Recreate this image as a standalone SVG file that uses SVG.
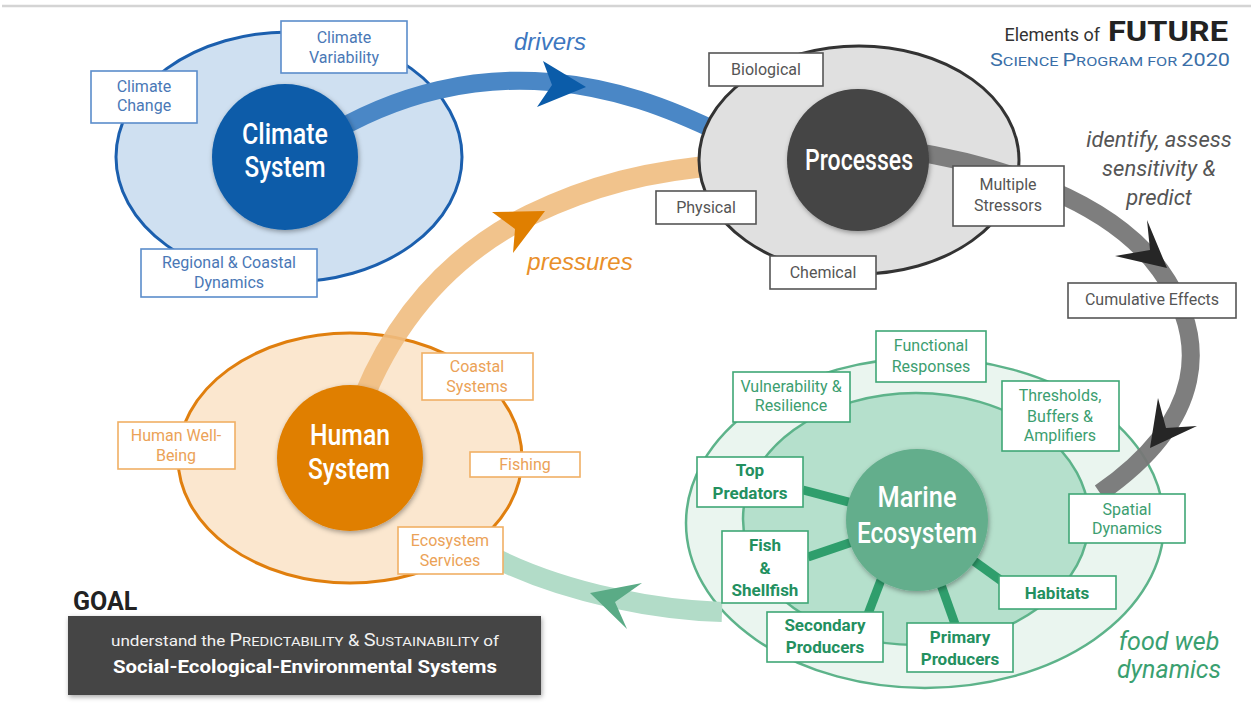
<svg xmlns="http://www.w3.org/2000/svg" width="1251" height="708" viewBox="0 0 1251 708">
  <defs>
    <filter id="shadow" x="-25%" y="-25%" width="150%" height="150%">
      <feDropShadow dx="1" dy="2" stdDeviation="2.5" flood-color="#000" flood-opacity="0.35"/>
    </filter>
    <style>
      text { font-family: Roboto, "Liberation Sans", sans-serif; }
      .lbl { font-size: 16px; text-anchor: middle; }
      .bold { font-size: 17px; font-weight: bold; text-anchor: middle; fill: #23905f; }
      .box { fill: #fff; stroke-width: 1.6; }
      .blue-box { stroke: #5b8dcb; }
      .blue-txt { fill: #4a78b6; }
      .gray-box { stroke: #555; }
      .gray-txt { fill: #555; }
      .orange-box { stroke: #f0b064; }
      .orange-txt { fill: #eba257; }
      .green-box { stroke: #3fa776; }
      .green-txt { fill: #3c9e70; }
      .hub { font-size: 30px; font-weight: 500; fill: #fff; text-anchor: middle; }
      .band { fill: none; stroke-linecap: butt; }
      .spoke { stroke: #2f9e6c; stroke-width: 9; }
      .verb { font-family: "Liberation Sans", Arial, sans-serif; font-style: italic; text-anchor: middle; }
    </style>
  </defs>

  <!-- header rule -->
  <line x1="2" y1="6" x2="1251" y2="6" stroke="#d4d4d4" stroke-width="2.5"/>

  <!-- title -->
  <g id="title">
    <text x="1100" y="41" font-size="18" fill="#333" text-anchor="end">Elements of</text>
    <text x="1108" y="41" font-size="28" font-weight="bold" fill="#222" textLength="120" lengthAdjust="spacingAndGlyphs">FUTURE</text>
    <text x="990" y="66" fill="#3a6fa8" textLength="240" lengthAdjust="spacingAndGlyphs"><tspan font-size="18">S</tspan><tspan font-size="13.5">CIENCE </tspan><tspan font-size="18">P</tspan><tspan font-size="13.5">ROGRAM FOR </tspan><tspan font-size="18">2020</tspan></text>
  </g>

  <!-- outer rings -->
  <ellipse id="climate-ring" cx="289" cy="157" rx="173" ry="125" fill="#cfe0f1" stroke="#1b5fae" stroke-width="3"/>
  <ellipse id="human-ring" cx="350" cy="458" rx="172" ry="125" fill="#fbe7cf" stroke="#e07f0e" stroke-width="3"/>

  <g id="connectors">
    <!-- drivers: climate to processes -->
    <path class="band" d="M 320 140 C 400 90 480 76 550 82 C 615 88 665 106 725 135" stroke="#4a87c6" stroke-width="18"/>
    <!-- pressures: human to processes -->
    <path class="band" d="M 355 420 C 390 320 450 255 530 215 C 590 186 650 170 725 165" stroke="#f0bd80" stroke-opacity="0.9" stroke-width="21"/>
  </g>

  <!-- processes ring sits over the incoming bands -->
  <ellipse id="processes-ring" cx="859" cy="160" rx="160" ry="114" fill="#e0e0e0" stroke="#333" stroke-width="3"/>

  <!-- marine rings -->
  <ellipse id="marine-outer" cx="925" cy="523" rx="239" ry="165" fill="#eaf5ef" stroke="#5db38a" stroke-width="2.5"/>
  <ellipse id="marine-inner" cx="916" cy="519" rx="173" ry="126" fill="#b5e0cc" stroke="#5db38a" stroke-width="2.5"/>

  <g id="connectors-2">
    <!-- services: marine back to human -->
    <path class="band" d="M 722 612 C 660 610 570 595 495 558" stroke="#b2dcc8" stroke-width="20"/>
    <!-- stressors to cumulative effects to food web -->
    <path class="band" d="M 905 150 C 1000 165 1110 200 1160 270 C 1210 340 1205 420 1100 493" stroke="#777" stroke-opacity="0.95" stroke-width="18"/>
    <!-- arrowheads -->
    <polygon points="543,61 586,87 537,107 552,85" fill="#0b5ca9"/>
    <polygon points="492,212 545,211 513,253 515,229" fill="#e07f00"/>
    <polygon points="642,583 590,593 627,629 615,602" fill="#5aab86"/>
    <polygon points="1147,220 1167,268 1115,256 1150,250" fill="#262626"/>
    <polygon points="1158,398 1150,448 1197,426 1166,428" fill="#262626"/>
    <!-- food web spokes -->
    <line class="spoke" x1="803" y1="490" x2="917" y2="520"/>
    <line class="spoke" x1="808" y1="557" x2="917" y2="520"/>
    <line class="spoke" x1="868" y1="614" x2="900" y2="530"/>
    <line class="spoke" x1="955" y1="624" x2="925" y2="540"/>
    <line class="spoke" x1="1003" y1="582" x2="917" y2="520"/>
  </g>

  <!-- hubs -->
  <g id="climate-system">
    <circle cx="285" cy="157" r="73" fill="#0b5ca9" filter="url(#shadow)"/>
    <text class="hub" x="285" y="144" textLength="86" lengthAdjust="spacingAndGlyphs">Climate</text>
    <text class="hub" x="285" y="177" textLength="81" lengthAdjust="spacingAndGlyphs">System</text>
  </g>
  <g id="processes">
    <circle cx="858" cy="160" r="71" fill="#444" filter="url(#shadow)"/>
    <text class="hub" x="859" y="170" textLength="108" lengthAdjust="spacingAndGlyphs">Processes</text>
  </g>
  <g id="human-system">
    <circle cx="350" cy="458" r="73" fill="#e07f00" filter="url(#shadow)"/>
    <text class="hub" x="350" y="445" textLength="80" lengthAdjust="spacingAndGlyphs">Human</text>
    <text class="hub" x="349" y="479" textLength="82" lengthAdjust="spacingAndGlyphs">System</text>
  </g>
  <g id="marine-ecosystem">
    <circle cx="917" cy="520" r="71" fill="#63ae8c" filter="url(#shadow)"/>
    <text class="hub" x="917" y="507" textLength="79" lengthAdjust="spacingAndGlyphs">Marine</text>
    <text class="hub" x="917" y="543" textLength="120" lengthAdjust="spacingAndGlyphs">Ecosystem</text>
  </g>

  <!-- climate labels -->
  <g id="climate-change">
    <rect class="box blue-box" x="91" y="71" width="106" height="52"/>
    <text class="lbl blue-txt" x="144" y="92">Climate</text>
    <text class="lbl blue-txt" x="144" y="111">Change</text>
  </g>
  <g id="climate-variability">
    <rect class="box blue-box" x="281" y="21" width="126" height="52"/>
    <text class="lbl blue-txt" x="344" y="43">Climate</text>
    <text class="lbl blue-txt" x="344" y="63">Variability</text>
  </g>
  <g id="regional-coastal">
    <rect class="box blue-box" x="141" y="249" width="176" height="48"/>
    <text class="lbl blue-txt" x="229" y="268">Regional &amp; Coastal</text>
    <text class="lbl blue-txt" x="229" y="288">Dynamics</text>
  </g>

  <!-- process labels -->
  <g id="biological">
    <rect class="box gray-box" x="709" y="53" width="114" height="33"/>
    <text class="lbl gray-txt" x="766" y="75">Biological</text>
  </g>
  <g id="physical">
    <rect class="box gray-box" x="656" y="191" width="100" height="33"/>
    <text class="lbl gray-txt" x="706" y="213">Physical</text>
  </g>
  <g id="chemical">
    <rect class="box gray-box" x="770" y="256" width="106" height="33"/>
    <text class="lbl gray-txt" x="823" y="278">Chemical</text>
  </g>
  <g id="multiple-stressors">
    <rect class="box gray-box" x="953" y="166" width="111" height="60"/>
    <text class="lbl gray-txt" x="1008" y="190">Multiple</text>
    <text class="lbl gray-txt" x="1008" y="211">Stressors</text>
  </g>
  <g id="cumulative-effects">
    <rect class="box gray-box" x="1068" y="283" width="168" height="35"/>
    <text class="lbl gray-txt" x="1152" y="305">Cumulative Effects</text>
  </g>

  <!-- human labels -->
  <g id="coastal-systems">
    <rect class="box orange-box" x="422" y="353" width="111" height="47"/>
    <text class="lbl orange-txt" x="477" y="372">Coastal</text>
    <text class="lbl orange-txt" x="477" y="392">Systems</text>
  </g>
  <g id="human-well-being">
    <rect class="box orange-box" x="118" y="422" width="117" height="47"/>
    <text class="lbl orange-txt" x="176" y="441">Human Well-</text>
    <text class="lbl orange-txt" x="176" y="461">Being</text>
  </g>
  <g id="fishing">
    <rect class="box orange-box" x="470" y="452" width="110" height="25"/>
    <text class="lbl orange-txt" x="525" y="470">Fishing</text>
  </g>
  <g id="ecosystem-services">
    <rect class="box orange-box" x="398" y="527" width="105" height="47"/>
    <text class="lbl orange-txt" x="450" y="546">Ecosystem</text>
    <text class="lbl orange-txt" x="450" y="566">Services</text>
  </g>

  <!-- marine labels -->
  <g id="functional-responses">
    <rect class="box green-box" x="876" y="331" width="110" height="51"/>
    <text class="lbl green-txt" x="931" y="351">Functional</text>
    <text class="lbl green-txt" x="931" y="372">Responses</text>
  </g>
  <g id="vulnerability-resilience">
    <rect class="box green-box" x="733" y="372" width="117" height="50"/>
    <text class="lbl green-txt" x="791" y="392">Vulnerability &amp;</text>
    <text class="lbl green-txt" x="791" y="411">Resilience</text>
  </g>
  <g id="thresholds">
    <rect class="box green-box" x="1002" y="381" width="117" height="70"/>
    <text class="lbl green-txt" x="1060" y="401">Thresholds,</text>
    <text class="lbl green-txt" x="1060" y="422">Buffers &amp;</text>
    <text class="lbl green-txt" x="1060" y="441">Amplifiers</text>
  </g>
  <g id="spatial-dynamics">
    <rect class="box green-box" x="1069" y="494" width="116" height="49"/>
    <text class="lbl green-txt" x="1127" y="515">Spatial</text>
    <text class="lbl green-txt" x="1127" y="534">Dynamics</text>
  </g>
  <g id="top-predators">
    <rect class="box green-box" x="697" y="457" width="106" height="50"/>
    <text class="bold" x="750" y="476">Top</text>
    <text class="bold" x="750" y="499">Predators</text>
  </g>
  <g id="fish-shellfish">
    <rect class="box green-box" x="722" y="531" width="86" height="72"/>
    <text class="bold" x="765" y="551">Fish</text>
    <text class="bold" x="765" y="574">&amp;</text>
    <text class="bold" x="765" y="596">Shellfish</text>
  </g>
  <g id="secondary-producers">
    <rect class="box green-box" x="767" y="612" width="116" height="50"/>
    <text class="bold" x="825" y="631">Secondary</text>
    <text class="bold" x="825" y="653">Producers</text>
  </g>
  <g id="primary-producers">
    <rect class="box green-box" x="907" y="623" width="106" height="49"/>
    <text class="bold" x="960" y="643">Primary</text>
    <text class="bold" x="960" y="665">Producers</text>
  </g>
  <g id="habitats">
    <rect class="box green-box" x="999" y="576" width="117" height="33"/>
    <text class="bold" x="1057" y="599">Habitats</text>
  </g>

  <!-- flow captions -->
  <text class="verb" x="550" y="50" font-size="24" fill="#3d77c0">drivers</text>
  <text class="verb" x="580" y="270" font-size="24" fill="#e98f2a">pressures</text>
  <g class="verb" font-size="22" fill="#555">
    <text x="1159" y="147">identify, assess</text>
    <text x="1159" y="176">sensitivity &amp;</text>
    <text x="1159" y="205">predict</text>
  </g>
  <g class="verb" font-size="25" fill="#3aa070">
    <text x="1169" y="650">food web</text>
    <text x="1169" y="678">dynamics</text>
  </g>

  <!-- goal -->
  <g id="goal">
    <text x="73" y="610" font-size="25" font-weight="bold" fill="#222">GOAL</text>
    <rect x="68" y="616" width="473" height="79" fill="#444" filter="url(#shadow)"/>
    <text x="111" y="646" fill="#f2f2f2" textLength="388" lengthAdjust="spacingAndGlyphs"><tspan font-size="15">understand the </tspan><tspan font-size="17.5">P</tspan><tspan font-size="13">REDICTABILITY</tspan><tspan font-size="16"> &amp; </tspan><tspan font-size="17.5">S</tspan><tspan font-size="13">USTAINABILITY</tspan><tspan font-size="15"> of</tspan></text>
    <text x="113" y="673" font-size="19" font-weight="bold" fill="#fff" textLength="384" lengthAdjust="spacingAndGlyphs">Social-Ecological-Environmental Systems</text>
  </g>
</svg>
